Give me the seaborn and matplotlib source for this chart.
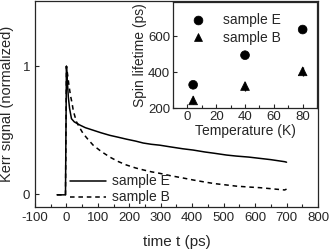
import numpy as np
import pandas as pd
import seaborn as sns
import matplotlib.pyplot as plt
from matplotlib.ticker import MultipleLocator

# Kerr signal traces
time_e = [-30, -3, 0, 3, 6, 10, 16, 25, 43, 60, 85, 110, 138, 165, 191, 220, 244, 270,
          297, 330, 370, 403, 440, 470, 509, 540, 580, 615, 650, 694, 700]
kerr_e = [-0.005, -0.005, 1.0, 0.88, 0.76, 0.67, 0.59, 0.565, 0.54, 0.52, 0.50, 0.48,
          0.46, 0.445, 0.43, 0.415, 0.40, 0.39, 0.383, 0.37, 0.355, 0.345, 0.33, 0.32,
          0.306, 0.298, 0.29, 0.28, 0.27, 0.254, 0.25]
time_b = [-30, -3, 0, 4, 8, 13, 18, 22, 32, 42, 53, 68, 85, 110, 138, 165, 191, 220,
          244, 270, 297, 330, 370, 403, 440, 470, 509, 540, 580, 615, 650, 694, 700]
kerr_b = [-0.005, -0.005, 1.0, 0.93, 0.85, 0.77, 0.71, 0.65, 0.565, 0.52, 0.474, 0.43,
          0.383, 0.335, 0.29, 0.255, 0.228, 0.205, 0.19, 0.175, 0.163, 0.145, 0.127,
          0.111, 0.095, 0.083, 0.072, 0.063, 0.056, 0.051, 0.043, 0.033, 0.04]

# spin lifetime vs temperature (inset)
temps = [4, 40, 80]
life_e = [330, 495, 638]
life_b = [243, 323, 405]
err_e = [10, 12, 10]
err_b = [22, 25, 25]

sns.set_style("ticks")
plt.rcParams['font.family'] = ['Liberation Sans', 'DejaVu Sans']
plt.rcParams['axes.unicode_minus'] = False
plt.rcParams['xtick.direction'] = 'in'
plt.rcParams['ytick.direction'] = 'in'

fig = plt.figure(figsize=(3.32, 2.52), dpi=100)
ax = fig.add_axes([0.1054, 0.1786, 0.8524, 0.8175])

df_e = pd.DataFrame({'t': time_e, 'v': kerr_e})
df_b = pd.DataFrame({'t': time_b, 'v': kerr_b})
sns.lineplot(data=df_e, x='t', y='v', ax=ax, color='black', lw=1.1, label='sample E')
sns.lineplot(data=df_b, x='t', y='v', ax=ax, color='black', lw=1.1, label='sample B',
             dashes=False, linestyle=(0, (3, 2.5)))

ax.set_xlim(-100, 800)
ax.set_ylim(-0.1, 1.51)
ax.set_xticks(range(-100, 801, 100))
ax.xaxis.set_minor_locator(MultipleLocator(50))
ax.set_yticks([0, 1])
ax.set_xlabel('time t (ps)', fontsize=11, labelpad=8)
ax.set_ylabel('Kerr signal (normalized)', fontsize=10.5, labelpad=6)
ax.tick_params(labelsize=9.5, length=3, width=0.8)
ax.tick_params(which='minor', length=2, width=0.8)
for s in ax.spines.values():
    s.set_linewidth(0.9)
ax.legend(loc='lower left', bbox_to_anchor=(0.09, -0.035), frameon=False, fontsize=10,
          handlelength=2.6, handletextpad=0.4, labelspacing=0.15, borderpad=0.2)

# inset
axi = fig.add_axes([0.521, 0.571, 0.434, 0.42])
df_t = pd.DataFrame({'T': temps + temps,
                     'tau': life_e + life_b,
                     'sample': ['sample E'] * 3 + ['sample B'] * 3})
sns.scatterplot(data=df_t, x='T', y='tau', style='sample', markers={'sample E': 'o', 'sample B': '^'},
                color='black', s=40, edgecolor='black', ax=axi)
axi.errorbar(temps, life_e, yerr=err_e, fmt='none', ecolor='black', capsize=2.5, lw=0.9, zorder=3)
axi.errorbar(temps, life_b, yerr=err_b, fmt='none', ecolor='black', capsize=0, lw=0.9, zorder=3)
axi.set_xlim(-10, 90)
axi.set_ylim(200, 790)
axi.set_xticks([0, 20, 40, 60, 80])
axi.xaxis.set_minor_locator(MultipleLocator(10))
axi.set_yticks([200, 400, 600])
axi.set_xlabel('Temperature (K)', fontsize=10, labelpad=1)
axi.set_ylabel('Spin lifetime (ps)', fontsize=10, labelpad=1)
axi.tick_params(labelsize=9.5, length=3, width=0.8, pad=2)
axi.tick_params(which='minor', length=2, width=0.8)
for s in axi.spines.values():
    s.set_linewidth(0.9)
axi.legend(loc='upper left', frameon=False, fontsize=10, handletextpad=0.8,
           labelspacing=0.25, borderpad=0.3, markerscale=1.0)

fig.savefig('out.png', dpi=100)
